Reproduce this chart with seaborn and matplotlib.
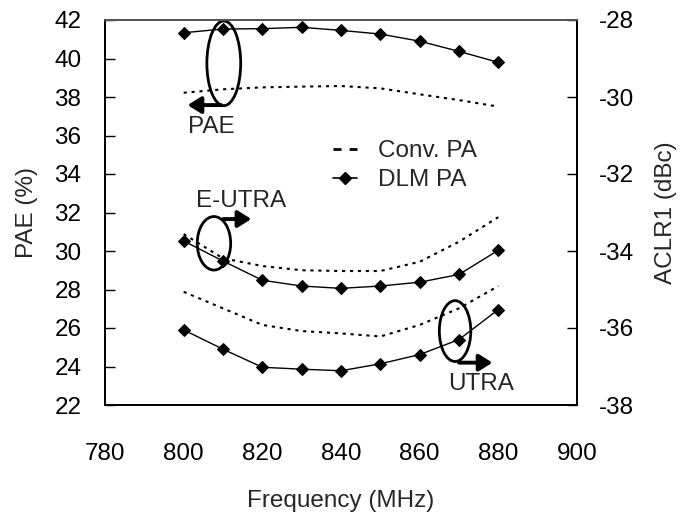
import matplotlib
matplotlib.use("Agg")
import matplotlib.pyplot as plt
import seaborn as sns
import pandas as pd
from matplotlib.patches import Ellipse
from matplotlib.lines import Line2D

sns.set_style("white")
plt.rcParams['font.family'] = ['Liberation Sans', 'DejaVu Sans']

freq = [800, 810, 820, 830, 840, 850, 860, 870, 880]
pae_dlm = [41.34, 41.53, 41.55, 41.62, 41.46, 41.27, 40.9, 40.37, 39.8]
pae_conv = [38.22, 38.40, 38.50, 38.54, 38.57, 38.45, 38.14, 37.84, 37.50]
eutra_dlm = [-33.74, -34.26, -34.76, -34.91, -34.97, -34.91, -34.81, -34.61, -33.98]
eutra_conv = [-33.56, -34.19, -34.39, -34.50, -34.52, -34.52, -34.28, -33.76, -33.12]
utra_dlm = [-36.05, -36.55, -37.02, -37.07, -37.11, -36.93, -36.69, -36.30, -35.52]
utra_conv = [-35.06, -35.49, -35.92, -36.08, -36.14, -36.22, -35.92, -35.49, -34.91]

left_ticks = list(range(22, 43, 2))
right_ticks = list(range(-38, -27, 2))
x_ticks = list(range(780, 901, 20))

df = pd.DataFrame({"freq": freq, "pae_dlm": pae_dlm, "pae_conv": pae_conv,
                   "eutra_dlm": eutra_dlm, "eutra_conv": eutra_conv,
                   "utra_dlm": utra_dlm, "utra_conv": utra_conv})

fig = plt.figure(figsize=(6.83, 5.16), dpi=100)
ax = fig.add_axes([105/683, 1-405/516, (577-105)/683, (405-20)/516])
ax2 = ax.twinx()

FS = 17.5
dot = (0, (1.5, 2.3))
mk = dict(marker="D", markersize=6, markeredgecolor="black", markerfacecolor="black")

sns.lineplot(data=df, x="freq", y="pae_dlm", ax=ax, color="black", linewidth=1.0, **mk)
sns.lineplot(data=df, x="freq", y="pae_conv", ax=ax, color="black", linewidth=1.5, linestyle=dot)
for c in ["eutra_dlm", "utra_dlm"]:
    sns.lineplot(data=df, x="freq", y=c, ax=ax2, color="black", linewidth=1.0, **mk)
for c in ["eutra_conv", "utra_conv"]:
    sns.lineplot(data=df, x="freq", y=c, ax=ax2, color="black", linewidth=1.5, linestyle=dot)

ax.set_xlim(780, 900)
ax.set_ylim(22, 42)
ax2.set_ylim(-38, -28)
ax.set_xticks(x_ticks)
ax.set_yticks(left_ticks)
ax2.set_yticks(right_ticks)
ax.set_xticklabels([str(t) for t in x_ticks], fontsize=FS)
ax.set_yticklabels([str(t) for t in left_ticks], fontsize=FS)
ax2.set_yticklabels([str(t) for t in right_ticks], fontsize=FS)
ax.set_xlabel("Frequency (MHz)", fontsize=FS, labelpad=18)
ax.set_ylabel("PAE (%)", fontsize=FS, labelpad=12)
ax2.set_ylabel("ACLR1 (dBc)", fontsize=FS, labelpad=15)

ax.tick_params(axis="x", direction="in", length=7, width=1, pad=27, colors="black", top=False)
ax.tick_params(axis="y", direction="in", length=7, width=1, pad=17, colors="black")
ax2.tick_params(axis="y", direction="in", length=7, width=1, pad=16, colors="black")
for a in (ax, ax2):
    for s in a.spines.values():
        s.set_color("black")
        s.set_linewidth(1.3)
ax.spines["top"].set_color("#555555")
ax2.spines["top"].set_color("#555555")

arrow = dict(arrowstyle="-|>,head_length=0.4,head_width=0.25", lw=2.8, color="black",
             mutation_scale=20, shrinkA=0, shrinkB=0)

# annotations
ax.add_patch(Ellipse((810.2, 39.75), 8.6, 4.4, fill=False, lw=2, ec="black"))
ax.annotate("", xy=(801.0, 37.58), xytext=(809.5, 37.58), arrowprops=arrow)
ax.text(807, 36.45, "PAE", fontsize=FS, ha="center", va="center")

ax2.add_patch(Ellipse((807.7, -33.8), 8.5, 1.39, fill=False, lw=2, ec="black"))
ax2.annotate("", xy=(817.2, -33.17), xytext=(810.0, -33.17), arrowprops=arrow)
ax2.text(814.5, -32.7, "E-UTRA", fontsize=FS, ha="center", va="center")

ax2.add_patch(Ellipse((869, -36.08), 8, 1.58, fill=False, lw=2, ec="black"))
ax2.annotate("", xy=(878.5, -36.9), xytext=(870.0, -36.9), arrowprops=arrow)
ax2.text(875.5, -37.45, "UTRA", fontsize=FS, ha="center", va="center")

handles = [Line2D([], [], color="black", lw=2, linestyle=(0, (2.9, 2.9))),
           Line2D([], [], color="black", lw=1.2, marker="D", markersize=6)]
ax2.legend(handles, ["Conv. PA", "DLM PA"], loc="upper left",
           bbox_to_anchor=(333/683, 1-140/516), bbox_transform=fig.transFigure,
           frameon=False, fontsize=FS, handlelength=1.0, handletextpad=0.85,
           labelspacing=0.3, borderpad=0, borderaxespad=0)

fig.savefig("out.png", dpi=100)
